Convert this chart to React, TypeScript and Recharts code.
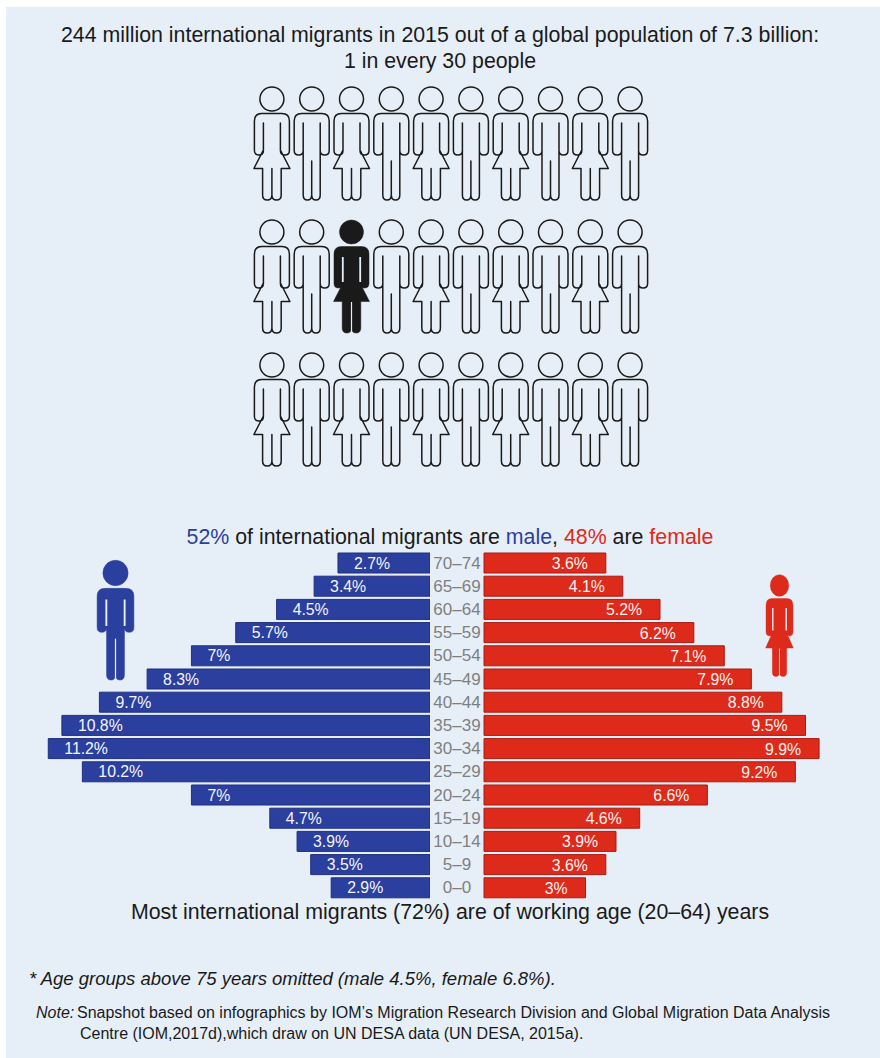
import { Bar, BarChart, LabelList, Scatter, ScatterChart, XAxis, YAxis } from 'recharts';

const ageGroups = ['70–74', '65–69', '60–64', '55–59', '50–54', '45–49', '40–44', '35–39', '30–34', '25–29', '20–24', '15–19', '10–14', '5–9', '0–0'];
const maleShare = [2.7, 3.4, 4.5, 5.7, 7, 8.3, 9.7, 10.8, 11.2, 10.2, 7, 4.7, 3.9, 3.5, 2.9];
const femaleShare = [3.6, 4.1, 5.2, 6.2, 7.1, 7.9, 8.8, 9.5, 9.9, 9.2, 6.6, 4.6, 3.9, 3.6, 3];

const pictogramColumns = [1, 2, 3, 4, 5, 6, 7, 8, 9, 10];
const pictogramRows = [1, 2, 3];
const migrantColumn = 3;
const migrantRow = 2;

const PANEL = '#e6eff7';
const BLUE = '#2b3f9e';
const RED = '#dd2a1b';
const FONT = '"Liberation Sans", Arial, sans-serif';

const pyramidData = ageGroups.map((age, i) => ({ age, male: maleShare[i], female: femaleShare[i] }));

const people = pictogramRows.flatMap((row) =>
  pictogramColumns.map((col) => ({
    col,
    row,
    female: col % 2 === 1,
    migrant: col === migrantColumn && row === migrantRow,
  })),
);

// figure outlines, origin at the centre of the head
const MALE_PATH =
  'M-10 14.5H10Q17.5 14.5 17.5 22V51.5Q17.5 56 13 56Q8.5 56 8.5 51.5V24V96Q8.5 101 4.3 101Q0 101 0 96V62V96Q0 101 -4.3 101Q-8.5 101 -8.5 96V24V51.5Q-8.5 56 -13 56Q-17.5 56 -17.5 51.5V22Q-17.5 14.5 -10 14.5Z';
const FEMALE_PATH =
  'M-10 14.5H10Q17.5 14.5 17.5 22V51.5Q17.5 56 13 56Q8.5 56 8.5 51.5V24V51L18 69.5H9.3V96Q9.3 101 4.7 101Q0 101 0 96V69.5V96Q0 101 -4.7 101Q-9.3 101 -9.3 96V69.5H-18L-8.5 51V24V51.5Q-8.5 56 -13 56Q-17.5 56 -17.5 51.5V22Q-17.5 14.5 -10 14.5Z';

function Figure({ x, y, female, color, filled, scaleX = 1, scaleY = 1 }: { x: number; y: number; female: boolean; color: string; filled: boolean; scaleX?: number; scaleY?: number }) {
  const strokeWidth = filled ? 0.5 : 1.5;
  return (
    <g transform={`translate(${x} ${y}) scale(${scaleX} ${scaleY})`}>
      <circle r={12} fill={filled ? color : 'none'} stroke={color} strokeWidth={strokeWidth} />
      <path d={female ? FEMALE_PATH : MALE_PATH} fill={filled ? color : 'none'} stroke={color} strokeWidth={strokeWidth} strokeLinejoin="round" />
      {filled && (
        <g stroke={PANEL} fill="none">
          <path d="M-8.7 25V50M8.7 25V50" strokeWidth={1.8} />
          <path d={female ? 'M0 70V102' : 'M0 62V102'} strokeWidth={1.2} />
        </g>
      )}
    </g>
  );
}

function PersonDot(props: any) {
  const { cx, cy, payload } = props;
  return <Figure x={cx} y={cy} female={payload.female} color="#1a1a1a" filled={payload.migrant} />;
}

function MaleLabel(props: any) {
  const { x, y, width, height, value } = props;
  return (
    <text x={Math.min(x, x + width) + 16} y={y + height / 2 + 5.5} fill="#f4f6fb" fontSize={15.8} fontFamily={FONT}>
      {value}%
    </text>
  );
}

function FemaleLabel(props: any) {
  const { x, y, width, height, value } = props;
  return (
    <text x={x + width - 18} y={y + height / 2 + 6} textAnchor="end" fill="#fdf3f1" fontSize={15.8} fontFamily={FONT}>
      {value}%
    </text>
  );
}

function AgeTick(props: any) {
  const { y, payload } = props;
  return (
    <text x={27} y={y + 6} textAnchor="middle" fill="#7f7f7f" fontSize={17} fontFamily={FONT}>
      {payload.value}
    </text>
  );
}

// one line of text, centred on the page unless a left edge is given
function Line({ top, left, shift = 0, size, italic, children }: any) {
  return (
    <div
      style={{
        position: 'absolute',
        top,
        left: left ?? shift,
        width: left === undefined ? 880 : undefined,
        textAlign: left === undefined ? 'center' : 'left',
        fontSize: size,
        fontStyle: italic ? 'italic' : 'normal',
        lineHeight: 1.15,
        color: '#1a1a1a',
        whiteSpace: 'nowrap',
      }}
    >
      {children}
    </div>
  );
}

export default function App() {
  return (
    <div style={{ position: 'absolute', left: 0, top: 0, width: 880, height: 1058, background: '#fff', overflow: 'hidden', fontFamily: FONT }}>
      <div style={{ position: 'absolute', left: 6, top: 7, width: 874, height: 1051, background: PANEL }} />

      <Line top={23} size={21.35}>244 million international migrants in 2015 out of a global population of 7.3 billion:</Line>
      <Line top={49} size={21.35}>1 in every 30 people</Line>

      <div style={{ position: 'absolute', left: 252, top: 20 }}>
        <ScatterChart width={398} height={470} margin={{ top: 12.5, right: 0, bottom: 58.5, left: 0 }}>
          <XAxis type="number" dataKey="col" domain={[0.5, 10.5]} hide />
          <YAxis type="number" dataKey="row" domain={[0.5, 3.5]} reversed hide />
          <Scatter data={people} shape={PersonDot} isAnimationActive={false} />
        </ScatterChart>
      </div>

      <Line top={525} shift={10} size={21.35}>
        <span style={{ color: BLUE }}>52%</span> of international migrants are <span style={{ color: BLUE }}>male</span>, <span style={{ color: RED }}>48%</span> are <span style={{ color: RED }}>female</span>
      </Line>

      <div style={{ position: 'absolute', left: 21, top: 551.4 }}>
        <BarChart width={409} height={348} layout="vertical" data={pyramidData} margin={{ top: 0, right: 0, bottom: 0, left: 0 }} barSize={20}>
          <XAxis type="number" domain={[0, 12]} reversed hide />
          <YAxis type="category" dataKey="age" hide />
          <Bar dataKey="male" fill={BLUE} stroke="#1f2f80" strokeWidth={1} isAnimationActive={false}>
            <LabelList dataKey="male" content={MaleLabel} />
          </Bar>
        </BarChart>
      </div>

      <div style={{ position: 'absolute', left: 430, top: 551.4 }}>
        <BarChart width={429} height={348} layout="vertical" data={pyramidData} margin={{ top: 0, right: 0, bottom: 0, left: 0 }} barSize={20}>
          <XAxis type="number" domain={[0, 11.08]} hide />
          <YAxis type="category" dataKey="age" width={54} axisLine={false} tickLine={false} interval={0} tick={AgeTick} />
          <Bar dataKey="female" fill={RED} stroke="#a81c12" strokeWidth={1} isAnimationActive={false}>
            <LabelList dataKey="female" content={FemaleLabel} />
          </Bar>
        </BarChart>
      </div>

      <svg width={880} height={1058} style={{ position: 'absolute', left: 0, top: 0, pointerEvents: 'none' }}>
        <Figure x={115.5} y={573} female={false} color={BLUE} filled scaleX={1.05} scaleY={1.06} />
        <Figure x={779.5} y={585.5} female color={RED} filled scaleX={0.77} scaleY={0.9} />
      </svg>

      <Line top={900} shift={10} size={21.35}>Most international migrants (72%) are of working age (20–64) years</Line>

      <Line top={968} left={29} size={18.5} italic>* Age groups above 75 years omitted (male 4.5%, female 6.8%).</Line>
      <Line top={1004} left={36} size={16} italic>Note:</Line>
      <Line top={1004} left={77} size={16}>Snapshot based on infographics by IOM’s Migration Research Division and Global Migration Data Analysis</Line>
      <Line top={1025} left={80} size={16}>Centre (IOM,2017d),which draw on UN DESA data (UN DESA, 2015a).</Line>
    </div>
  );
}
